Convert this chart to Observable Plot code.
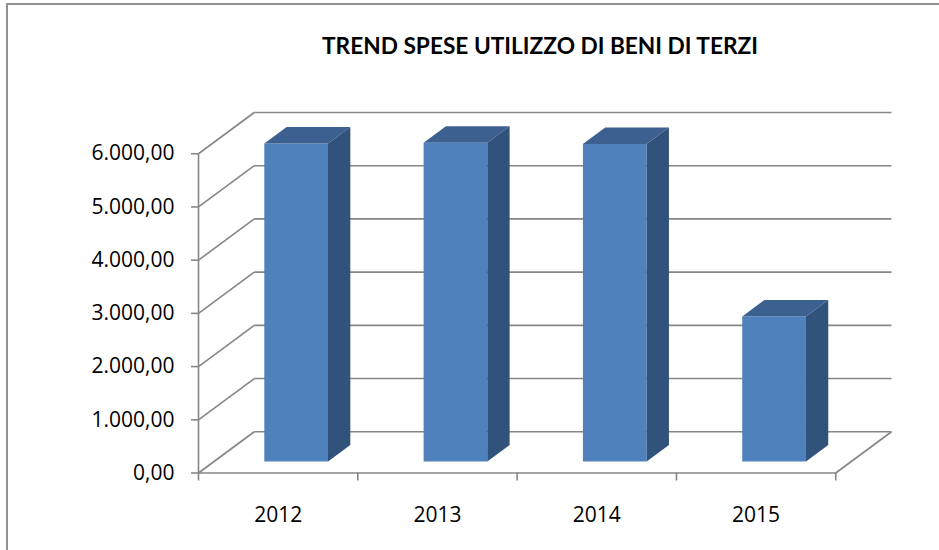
<!DOCTYPE html>
<html>
<head>
<meta charset="utf-8">
<script src="https://cdn.jsdelivr.net/npm/d3@7"></script>
<script src="https://cdn.jsdelivr.net/npm/@observablehq/plot@0.6"></script>
<style>
  html, body { margin: 0; padding: 0; background: #fff; }
  #wrap { position: relative; width: 939px; height: 550px; overflow: hidden; background: #fff; }
  #frame { position: absolute; left: 6px; top: 3px; width: 1000px; height: 700px;
           border-top: 2px solid #929292; border-left: 2px solid #929292; box-sizing: border-box; }
  #chart { position: absolute; left: 0; top: 0; }
</style>
</head>
<body>
<div id="wrap">
  <div id="frame"></div>
  <div id="chart"></div>
</div>
<script>
// ---- data ----
const title = "TREND SPESE UTILIZZO DI BENI DI TERZI";
const years = ["2012", "2013", "2014", "2015"];
const values = [5975, 5990, 5965, 2725];
const yTicks = [0, 1000, 2000, 3000, 4000, 5000, 6000];

// ---- formatting (Italian) ----
const itFormat = d3.formatLocale({decimal: ",", thousands: ".", grouping: [3], currency: ["€", ""]}).format(",.2f");

// ---- oblique 3D projection in data units ----
const DX = 0.35;   // depth shift along x (category units)
const DY = 775;    // depth shift along y (value units)
const BX0 = 0.315, BX1 = 0.715;   // bar extent within category
const D0 = 0.28, D1 = 0.68;       // bar depth extent
const P = (x, y, d) => ({x: x + d * DX, y: y + d * DY});

const n = years.length;
const yMax = yTicks[yTicks.length - 1];

// faces of bars
const faces = [];
values.forEach((v, i) => {
  const x0 = i + BX0, x1 = i + BX1;
  const add = (face, pts) => pts.forEach(p => faces.push({...p, id: i + "-" + face, face}));
  add("front", [P(x0, 0, D0), P(x1, 0, D0), P(x1, v, D0), P(x0, v, D0)]);
  add("top",   [P(x0, v, D0), P(x1, v, D0), P(x1, v, D1), P(x0, v, D1)]);
  add("side",  [P(x1, 0, D0), P(x1, 0, D1), P(x1, v, D1), P(x1, v, D0)]);
});

// wall / floor segments
const seg = (a, b) => ({x1: a.x, y1: a.y, x2: b.x, y2: b.y});
const segments = [];
yTicks.forEach(t => {
  segments.push(seg(P(0, t, 1), P(n, t, 1)));   // back wall gridline
  segments.push(seg(P(0, t, 0), P(0, t, 1)));   // left wall diagonal
});
segments.push(seg(P(0, 0, 0), P(n, 0, 0)));     // floor front edge
segments.push(seg(P(n, 0, 0), P(n, 0, 1)));     // floor right edge
segments.push(seg(P(0, 0, 0), P(0, yMax, 0))); // front vertical axis

const faceColor = {front: "#4F81BD", top: "#3C6191", side: "#31527B"};
const labelFont = "'Open Sans', 'Liberation Sans', sans-serif";

const chart = Plot.plot({
  width: 939,
  height: 550,
  marginLeft: 198,
  marginRight: 48,
  marginTop: 112,
  marginBottom: 77.5,
  style: {fontFamily: labelFont, fontSize: "21px", background: "transparent", overflow: "visible"},
  x: {type: "linear", domain: [0, n + DX], label: null},
  y: {type: "linear", domain: [0, yMax + DY], label: null},
  marks: [
    Plot.link(segments, {x1: "x1", y1: "y1", x2: "x2", y2: "y2", stroke: "#868686", strokeWidth: 1.6}),
    Plot.axisY({ticks: yTicks, tickFormat: itFormat, tickSize: 7, tickPadding: 17,
                stroke: "#868686", strokeWidth: 1.6, fill: "black", label: null}),
    Plot.axisX({ticks: d3.range(n + 1), tickSize: 8, stroke: "#868686", strokeWidth: 1.6, fill: null, label: null}),
    Plot.axisX({ticks: years.map((_, i) => i + 0.5), tickSize: 0, tickPadding: 34,
                tickFormat: d => years[Math.floor(d)], fill: "black", label: null}),
    ...["front", "top", "side"].map(f =>
      Plot.line(faces.filter(d => d.face === f), {x: "x", y: "y", z: "id", fill: faceColor[f], stroke: null, curve: "linear-closed"})
    )
  ]
});

document.getElementById("chart").appendChild(chart);

// title as real SVG text
d3.select(chart).append("text")
  .attr("x", 540).attr("y", 53.5)
  .attr("text-anchor", "middle")
  .attr("font-family", "Lato, 'Liberation Sans', sans-serif")
  .attr("font-weight", "bold")
  .attr("font-size", 22)
  .attr("fill", "black")
  .attr("textLength", 436)
  .attr("lengthAdjust", "spacingAndGlyphs")
  .text(title);
</script>
</body>
</html>
